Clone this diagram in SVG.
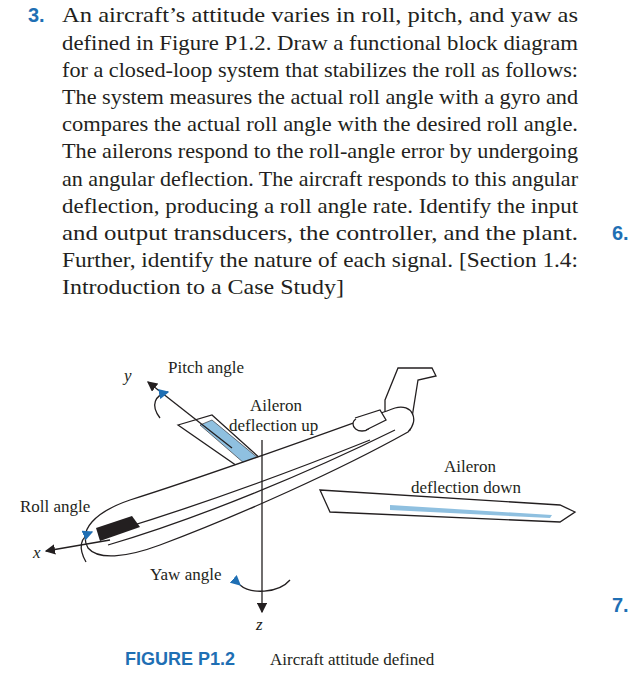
<svg xmlns="http://www.w3.org/2000/svg" width="640" height="700" viewBox="0 0 640 700">
<style>
.t{font-family:"Liberation Serif",serif;font-size:22px;fill:#231f20}
.f{font-family:"Liberation Serif",serif;font-size:17px;fill:#231f20}
.i{font-style:italic}
.b{font-family:"Liberation Sans",sans-serif;font-weight:bold;fill:#1f6fb4}
.l{fill:none;stroke:#231f20;stroke-width:1.3}
.w{fill:#fff;stroke:#231f20;stroke-width:1.3}
</style>
<defs><marker id="a" markerWidth="8" markerHeight="8" refX="7" refY="4" orient="auto"><path d="M0,0 L8,4 L0,8 z" fill="#231f20"/></marker>
<marker id="ab" markerWidth="8" markerHeight="8" refX="7" refY="4" orient="auto"><path d="M0,0 L8,4 L0,8 z" fill="#1f6fb4"/></marker></defs>
<rect width="640" height="700" fill="#fff"/>
<g id="text">
<text x="28" y="22" class="b" font-size="20">3.</text>
<text x="62" y="22" class="t" textLength="516" lengthAdjust="spacingAndGlyphs">An aircraft’s attitude varies in roll, pitch, and yaw as</text>
<text x="62" y="50" class="t" textLength="516" lengthAdjust="spacingAndGlyphs">defined in Figure P1.2. Draw a functional block diagram</text>
<text x="62" y="77" class="t" textLength="516" lengthAdjust="spacingAndGlyphs">for a closed-loop system that stabilizes the roll as follows:</text>
<text x="62" y="104" class="t" textLength="516" lengthAdjust="spacingAndGlyphs">The system measures the actual roll angle with a gyro and</text>
<text x="62" y="131" class="t" textLength="516" lengthAdjust="spacingAndGlyphs">compares the actual roll angle with the desired roll angle.</text>
<text x="62" y="158" class="t" textLength="516" lengthAdjust="spacingAndGlyphs">The ailerons respond to the roll-angle error by undergoing</text>
<text x="62" y="186" class="t" textLength="516" lengthAdjust="spacingAndGlyphs">an angular deflection. The aircraft responds to this angular</text>
<text x="62" y="213" class="t" textLength="516" lengthAdjust="spacingAndGlyphs">deflection, producing a roll angle rate. Identify the input</text>
<text x="62" y="240" class="t" textLength="516" lengthAdjust="spacingAndGlyphs">and output transducers, the controller, and the plant.</text>
<text x="612" y="240" class="b" font-size="20">6.</text>
<text x="62" y="267" class="t" textLength="516" lengthAdjust="spacingAndGlyphs">Further, identify the nature of each signal. [Section 1.4:</text>
<text x="62" y="294" class="t" textLength="282" lengthAdjust="spacingAndGlyphs">Introduction to a Case Study]</text>
<text x="612" y="612" class="b" font-size="20">7.</text>
<text x="125" y="665" class="b" font-size="18">FIGURE P1.2</text>
<text x="270" y="665" class="f" font-size="19">Aircraft attitude defined</text>
</g>
<g id="aircraft">
<path class="w" d="M385,400 L398,368 L432,368 L436,376 L418,380 L410,430 L385,440 z"/>
<path class="w" d="M178,425 L212,415 L262,460 L240,468 z"/>
<path d="M200,425 L212,420 L258,458 L245,464 z" fill="#8fc0e0" stroke="#231f20" stroke-width="0.6"/>
<path class="w" d="M320,490 L560,505 L575,512 L560,522 L330,512 z"/>
<path d="M390,505 L552,515 L550,518 L390,510 z" fill="#8fc0e0"/>
<path class="w" d="M88,548 C78,530 95,512 130,500 C210,475 320,435 395,408 C412,403 420,420 408,432 C340,470 240,515 160,545 C125,558 98,560 88,548 z"/>
<path class="l" d="M108,545 C200,518 310,472 395,430" stroke-width="3.5"/>
<path class="l" d="M118,530 C200,505 290,472 370,440"/>
<path d="M96,528 L132,516 L140,527 L100,541 z" fill="#231f20"/>
<ellipse cx="362" cy="424" rx="9" ry="7" class="w"/>
<path class="w" d="M355,418 L380,410 L386,420 L366,430"/>
</g>
<g id="axes">
<line x1="262" y1="440" x2="262" y2="612" class="l" marker-end="url(#a)"/>
<line x1="110" y1="540" x2="46" y2="551" class="l" marker-end="url(#a)"/>
<line x1="232" y1="448" x2="148" y2="382" class="l" marker-end="url(#a)"/>
<path class="l" d="M160,418 C150,405 155,395 168,392" stroke="#1f6fb4" marker-end="url(#ab)"/>
<path class="l" d="M86,562 C78,548 80,537 92,532" stroke="#1f6fb4" marker-end="url(#ab)"/>
<path class="l" d="M240,585 C250,594 278,594 290,580" marker-start="url(#ab)"/>
</g>
<g id="labels">
<text x="168" y="373" class="f">Pitch angle</text>
<text x="124" y="381" class="f i">y</text>
<text x="250" y="411" class="f">Aileron</text>
<text x="229" y="431" class="f">deflection up</text>
<text x="444" y="472" class="f">Aileron</text>
<text x="411" y="493" class="f">deflection down</text>
<text x="20" y="512" class="f">Roll angle</text>
<text x="33" y="558" class="f i">x</text>
<text x="150" y="580" class="f">Yaw angle</text>
<text x="256" y="630" class="f i">z</text>
</g>
</svg>
